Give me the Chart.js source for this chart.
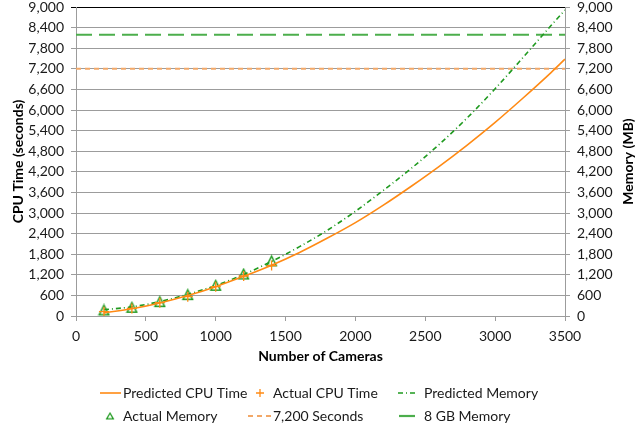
<!DOCTYPE html>
<html>
<head>
<meta charset="utf-8">
<script src="https://cdn.jsdelivr.net/npm/chart.js@4/dist/chart.umd.min.js"></script>
<style>
  html, body { margin: 0; padding: 0; background: #fff; }
  canvas { display: block; }
</style>
</head>
<body>
<canvas id="chart" width="644" height="429"></canvas>
<script>
// Measured runs
const cameraCounts = [200, 400, 600, 800, 1000, 1200, 1400];
const actualCpu    = [125, 222, 388, 563, 854, 1165, 1470];
const actualMem    = [175, 252, 417, 621, 893, 1223, 1605];

// Model predictions
const predCameras = [200, 400, 600, 800, 1000, 1200, 1400, 1600, 1800, 2000, 2200, 2400, 2600, 2800, 3000, 3200, 3400, 3500];
const predCpu     = [92, 210, 380, 595, 855, 1155, 1480, 1850, 2270, 2720, 3230, 3780, 4360, 4980, 5640, 6350, 7090, 7480];
const predMem     = [185, 265, 420, 630, 890, 1210, 1590, 2020, 2500, 3050, 3660, 4300, 5000, 5770, 6620, 7530, 8460, 8910];

// Limits
const cpuLimit = 7200;   // seconds
const memLimit = 8192;   // MB (8 GB)

// Axis ranges
const xMin = 0, xMax = 3500, xStep = 500;
const yMin = 0, yMax = 9000, yStep = 600;

const seriesNames = ['Predicted CPU Time', 'Actual CPU Time', 'Predicted Memory', 'Actual Memory', '7,200 Seconds', '8 GB Memory'];
const rightTitle = 'Memory (MB)';

const FONT = 'Lato, "Open Sans", sans-serif';
const ORANGE = '#ff8a14';
const PEACH = '#f2a868';
const GREEN = '#1f9a1f';
const LIGHT_GREEN = '#4cae4c';
const GRID = '#9c9c9c';

// Open triangle marker, centred on its bounding box
function makeTriangle(w, h, color, lw) {
  const c = document.createElement('canvas');
  c.width = w + 2; c.height = h + 2;
  const g = c.getContext('2d');
  g.strokeStyle = color;
  g.lineWidth = lw;
  g.lineJoin = 'miter';
  g.beginPath();
  g.moveTo(c.width / 2, 1 + lw / 2);
  g.lineTo(c.width - 1 - lw / 2, c.height - 1 - lw / 2);
  g.lineTo(1 + lw / 2, c.height - 1 - lw / 2);
  g.closePath();
  g.stroke();
  return c;
}
const triMarker = makeTriangle(11, 11, GREEN, 1.5);
const triLegend = makeTriangle(8, 7, GREEN, 1.2);

const toXY = (xs, ys) => xs.map((x, i) => ({ x: x, y: ys[i] }));

const datasets = [
  {
    label: seriesNames[0], data: toXY(predCameras, predCpu), yAxisID: 'y',
    showLine: true, borderColor: ORANGE, borderWidth: 1.6, pointRadius: 0,
    cubicInterpolationMode: 'monotone'
  },
  {
    label: seriesNames[1], data: toXY(cameraCounts, actualCpu), yAxisID: 'y',
    showLine: false, pointStyle: 'cross', pointRadius: 5, borderColor: ORANGE,
    pointBorderWidth: 1.3, backgroundColor: ORANGE
  },
  {
    label: seriesNames[2], data: toXY(predCameras, predMem), yAxisID: 'y1',
    showLine: true, borderColor: GREEN, borderWidth: 1.6, borderDash: [5, 3, 1, 3],
    pointRadius: 0, cubicInterpolationMode: 'monotone'
  },
  {
    label: seriesNames[3], data: toXY(cameraCounts, actualMem), yAxisID: 'y1',
    showLine: false, pointStyle: triMarker, pointRadius: 6, borderColor: GREEN
  },
  {
    label: seriesNames[4], data: [{ x: xMin, y: cpuLimit }, { x: xMax, y: cpuLimit }], yAxisID: 'y',
    showLine: true, borderColor: PEACH, borderWidth: 2, borderDash: [5, 4], pointRadius: 0
  },
  {
    label: seriesNames[5], data: [{ x: xMin, y: memLimit }, { x: xMax, y: memLimit }], yAxisID: 'y1',
    showLine: true, borderColor: LIGHT_GREEN, borderWidth: 2.2, borderDash: [16, 7], pointRadius: 0
  }
];

// Legend drawn in three columns under the axis title
const legendSlots = [
  { row: 0, sx: 100, sw: 21, tx: 123 },
  { row: 0, sx: 260, sw: 0,  tx: 273 },
  { row: 0, sx: 398, sw: 20, tx: 424 },
  { row: 1, sx: 110, sw: 0,  tx: 123 },
  { row: 1, sx: 248, sw: 23, tx: 273 },
  { row: 1, sx: 399, sw: 22, tx: 424 }
];
const legendRows = [393, 416];

const columnLegend = {
  id: 'columnLegend',
  afterDraw(chart) {
    const ctx = chart.ctx;
    ctx.save();
    chart.data.datasets.forEach((ds, i) => {
      const slot = legendSlots[i];
      const y = legendRows[slot.row];
      if (ds.showLine) {
        ctx.strokeStyle = ds.borderColor;
        ctx.lineWidth = ds.borderWidth;
        ctx.setLineDash(ds.borderDash || []);
        ctx.beginPath();
        ctx.moveTo(slot.sx, y);
        ctx.lineTo(slot.sx + slot.sw, y);
        ctx.stroke();
        ctx.setLineDash([]);
      } else if (ds.pointStyle === 'cross') {
        ctx.strokeStyle = ds.borderColor;
        ctx.lineWidth = 1.3;
        ctx.beginPath();
        ctx.moveTo(slot.sx - 4, y); ctx.lineTo(slot.sx + 4, y);
        ctx.moveTo(slot.sx, y - 4); ctx.lineTo(slot.sx, y + 4);
        ctx.stroke();
      } else {
        ctx.drawImage(triLegend, slot.sx - triLegend.width / 2, y - triLegend.height / 2);
      }
      ctx.fillStyle = '#1a1a1a';
      ctx.font = '14px ' + FONT;
      ctx.textAlign = 'left';
      ctx.textBaseline = 'middle';
      ctx.fillText(ds.label, slot.tx, y);
    });
    ctx.restore();
  }
};

// Right-hand axis title, reading bottom to top like the left one
const rightAxisTitle = {
  id: 'rightAxisTitle',
  afterDraw(chart) {
    const ctx = chart.ctx;
    const area = chart.chartArea;
    ctx.save();
    ctx.translate(628, (area.top + area.bottom) / 2);
    ctx.rotate(-Math.PI / 2);
    ctx.fillStyle = '#000';
    ctx.font = 'bold 14px ' + FONT;
    ctx.textAlign = 'center';
    ctx.textBaseline = 'middle';
    ctx.fillText(rightTitle, 0, 0);
    ctx.restore();
  }
};

const tickFont = { family: FONT, size: 14 };
const yTickFont = { family: FONT, size: 14, lineHeight: 1 };
const titleFont = { family: FONT, size: 14, weight: 'bold' };
const commaFmt = v => Number(v).toLocaleString('en-US');

new Chart(document.getElementById('chart'), {
  type: 'scatter',
  data: { datasets: datasets },
  plugins: [columnLegend, rightAxisTitle],
  options: {
    responsive: false,
    animation: false,
    devicePixelRatio: 1,
    layout: { padding: { top: 7, left: 0, right: 0, bottom: 62 } },
    plugins: { legend: { display: false }, tooltip: { enabled: false } },
    scales: {
      x: {
        type: 'linear', min: xMin, max: xMax,
        ticks: { stepSize: xStep, color: '#1a1a1a', font: tickFont, padding: 7, maxRotation: 0, callback: v => String(v) },
        grid: { drawOnChartArea: false, drawTicks: true, tickLength: 5, color: GRID },
        border: { color: GRID },
        title: { display: true, text: 'Number of Cameras', color: '#000', font: titleFont, padding: { top: 0, bottom: 2 } },
        afterFit(s) { s.height = 51; }
      },
      y: {
        position: 'left', min: yMin, max: yMax,
        ticks: { stepSize: yStep, color: '#1a1a1a', font: yTickFont, padding: 7, callback: commaFmt },
        grid: {
          tickLength: 5,
          color: c => (c.tick && c.tick.value === yMax) ? '#000' : GRID
        },
        border: { color: GRID },
        title: { display: true, text: 'CPU Time (seconds)', color: '#000', font: titleFont, padding: { top: 10, bottom: 0 } },
        afterFit(s) { s.width = 76; s.paddingTop = 0; s.paddingBottom = 0; }
      },
      y1: {
        position: 'right', min: yMin, max: yMax,
        ticks: { stepSize: yStep, color: '#1a1a1a', font: yTickFont, padding: 7, callback: commaFmt },
        grid: { drawOnChartArea: false, tickLength: 5, color: GRID },
        border: { color: GRID },
        title: { display: false },
        afterFit(s) { s.width = 79; s.paddingTop = 0; s.paddingBottom = 0; }
      }
    }
  }
});
</script>
</body>
</html>
